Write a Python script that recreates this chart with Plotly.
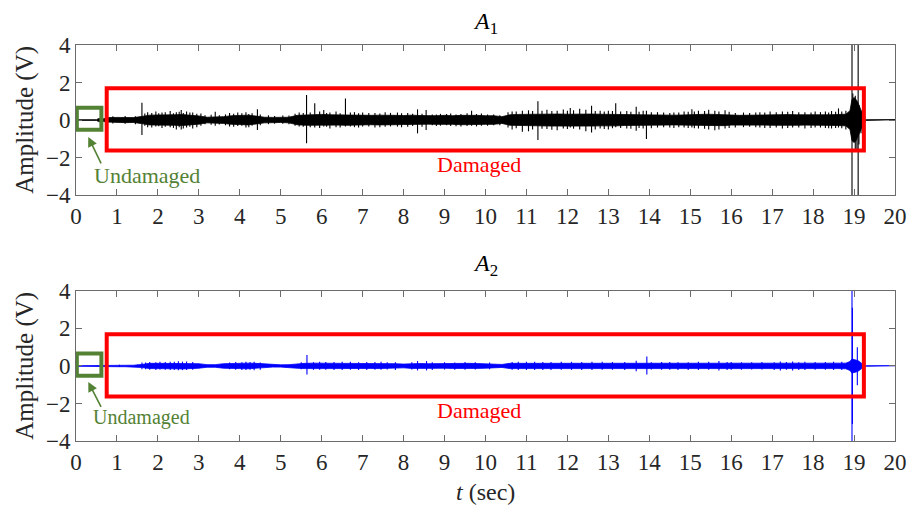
import plotly.graph_objects as go

# ---------------- data ----------------
env_t = [0.0, 0.5, 0.55, 0.6, 0.66, 0.72,
         0.8, 1.0, 1.2, 1.4, 1.6, 1.8, 2.0, 2.2, 2.4, 2.6,
         2.8, 3.0, 3.2, 3.4, 3.6, 3.8, 4.0, 4.2, 4.4, 4.6,
         4.8, 5.0, 5.2, 5.4, 5.6, 5.8, 6.0, 6.2, 6.4, 6.6,
         6.8, 7.0, 7.2, 7.4, 7.6, 7.8, 8.0, 8.2, 8.4, 8.6,
         8.8, 9.0, 9.2, 9.4, 9.6, 9.8, 10.0, 10.2, 10.4, 10.6,
         10.8, 11.0, 11.2, 11.4, 11.6, 11.8, 12.0, 12.2, 12.4, 12.6,
         12.8, 13.0, 13.2, 13.4, 13.6, 13.8, 14.0, 14.2, 14.4, 14.6,
         14.8, 15.0, 15.2, 15.4, 15.6, 15.8, 16.0, 16.2, 16.4, 16.6,
         16.8, 17.0, 17.2, 17.4, 17.6, 17.8, 18.0, 18.2, 18.4, 18.6,
         18.8,
         18.9, 18.95, 19.0, 19.05, 19.1, 19.15, 19.2, 19.25, 19.3, 20.0]

# half-amplitude of the solid signal band (V)
a1_env = [0.02, 0.02, 0.08, 0.10, 0.06, 0.10,
          0.13, 0.14, 0.14, 0.13, 0.19, 0.26, 0.27, 0.26, 0.28, 0.29,
          0.27, 0.22, 0.15, 0.15, 0.18, 0.23, 0.24, 0.26, 0.21, 0.15,
          0.14, 0.13, 0.15, 0.25, 0.28, 0.29, 0.30, 0.28, 0.27, 0.28,
          0.27, 0.27, 0.25, 0.26, 0.27, 0.25, 0.24, 0.26, 0.24, 0.22,
          0.23, 0.25, 0.23, 0.25, 0.27, 0.25, 0.23, 0.23, 0.18, 0.28,
          0.30, 0.31, 0.32, 0.31, 0.32, 0.32, 0.31, 0.32, 0.33, 0.32,
          0.31, 0.30, 0.31, 0.29, 0.30, 0.29, 0.29, 0.27, 0.26, 0.26,
          0.27, 0.29, 0.30, 0.31, 0.30, 0.30, 0.27, 0.25, 0.26, 0.27,
          0.27, 0.28, 0.28, 0.29, 0.28, 0.27, 0.28, 0.28, 0.28, 0.29,
          0.31,
          0.50, 1.10, 1.20, 1.10, 0.90, 0.60, 0.35, 0.10, 0.02, 0.02]

a2_env = [0.015, 0.015, 0.025, 0.03, 0.02, 0.03,
          0.04, 0.04, 0.04, 0.04, 0.08, 0.14, 0.14, 0.14, 0.15, 0.16,
          0.15, 0.12, 0.07, 0.07, 0.12, 0.14, 0.14, 0.15, 0.14, 0.10,
          0.06, 0.06, 0.07, 0.12, 0.14, 0.15, 0.15, 0.14, 0.14, 0.14,
          0.14, 0.14, 0.13, 0.14, 0.14, 0.12, 0.10, 0.13, 0.13, 0.12,
          0.13, 0.12, 0.13, 0.13, 0.14, 0.13, 0.12, 0.12, 0.08, 0.14,
          0.14, 0.15, 0.14, 0.14, 0.15, 0.14, 0.14, 0.14, 0.15, 0.14,
          0.14, 0.14, 0.14, 0.14, 0.14, 0.14, 0.13, 0.14, 0.14, 0.14,
          0.13, 0.14, 0.14, 0.14, 0.15, 0.14, 0.14, 0.13, 0.14, 0.14,
          0.14, 0.14, 0.14, 0.14, 0.14, 0.14, 0.14, 0.14, 0.14, 0.14,
          0.15,
          0.24, 0.38, 0.34, 0.32, 0.28, 0.20, 0.12, 0.03, 0.015, 0.015]

# individual spikes: time, max, min
a1_spk_t = [1.61, 2.57, 3.40, 4.43, 5.63, 5.83, 6.05, 6.58, 8.34, 8.55,
            11.28, 12.07, 12.59, 13.18, 13.68, 13.93, 15.04, 18.62,
            18.95, 18.97, 19.03, 19.07, 19.10, 19.12, 19.17,
            0.9, 1.2, 1.45, 1.75, 1.95, 2.1, 2.3, 2.45, 2.7, 2.85, 3.05, 3.3,
            3.75, 3.95, 4.15, 4.3, 4.7, 5.05, 5.45, 5.95, 6.2, 6.35, 6.8, 7.0,
            7.3, 7.55, 7.85, 8.1, 8.9, 9.15, 9.4, 9.66, 9.9, 10.2, 10.65, 10.9,
            11.05, 11.5, 11.75, 11.9, 12.3, 12.45, 12.8, 13.0, 13.45, 13.85,
            14.2, 14.6, 14.85, 15.2, 15.45, 15.6, 15.85, 16.3, 16.7, 16.95,
            17.25, 17.5, 17.8, 18.05, 18.3, 18.45, 18.8,
            1.68, 1.85, 2.02, 2.18, 2.38, 2.52, 2.62, 2.78, 2.95, 3.15, 3.5, 3.65,
            3.85, 4.05, 4.22, 4.5, 4.85, 5.2, 5.35, 5.55, 5.72, 6.12, 6.45, 6.7,
            6.9, 7.15, 7.42, 7.68, 7.95, 8.22, 8.45, 8.7, 8.8, 9.05, 9.28, 9.55,
            9.78, 10.05, 10.35, 10.55, 10.75, 11.15, 11.38, 11.62, 12.0, 12.15,
            12.68, 12.9, 13.1, 13.3, 13.55, 13.75, 14.05, 14.35, 14.5, 14.72,
            14.95, 15.1, 15.35, 15.7, 15.95, 16.1, 16.45, 16.6, 16.82, 17.1,
            17.38, 17.65, 17.95, 18.18, 18.38, 18.55, 18.7]
a1_spk_hi = [0.92, 0.53, 0.44, 0.58, 1.33, 0.89, 0.53, 1.15, 0.57, 0.53,
             1.00, 0.64, 0.76, 0.89, 0.71, 0.50, 0.58, 0.62,
             4.50, 1.42, 1.30, 1.00, 4.50, 0.80, 0.50,
             0.20, 0.22, 0.20, 0.42, 0.45, 0.40, 0.48, 0.42, 0.45, 0.40, 0.35, 0.28,
             0.38, 0.40, 0.42, 0.36, 0.25, 0.24, 0.40, 0.45, 0.40, 0.45, 0.42, 0.40,
             0.38, 0.42, 0.40, 0.38, 0.33, 0.35, 0.32, 0.50, 0.35, 0.30, 0.45, 0.50,
             0.52, 0.55, 0.50, 0.56, 0.60, 0.55, 0.50, 0.50, 0.48, 0.50,
             0.42, 0.40, 0.45, 0.50, 0.55, 0.50, 0.52, 0.40, 0.42, 0.45,
             0.45, 0.48, 0.42, 0.45, 0.45, 0.48, 0.50,
             0.35, 0.38, 0.36, 0.42, 0.36, 0.44, 0.38, 0.40, 0.34, 0.26, 0.25, 0.30,
             0.34, 0.36, 0.32, 0.30, 0.22, 0.24, 0.34, 0.38, 0.40, 0.38, 0.36, 0.40,
             0.36, 0.38, 0.35, 0.38, 0.36, 0.34, 0.33, 0.30, 0.30, 0.32, 0.30, 0.36,
             0.32, 0.30, 0.26, 0.42, 0.46, 0.48, 0.50, 0.48, 0.50, 0.52,
             0.48, 0.46, 0.48, 0.46, 0.44, 0.44, 0.42, 0.40, 0.38, 0.40,
             0.44, 0.46, 0.48, 0.46, 0.44, 0.38, 0.38, 0.40, 0.40, 0.42,
             0.44, 0.42, 0.40, 0.42, 0.40, 0.44, 0.46]
a1_spk_lo = [-0.80, -0.50, -0.30, -0.53, -1.24, -0.40, -0.35, -0.35, -0.71, -0.53,
             -1.06, -0.40, -0.66, -0.39, -0.57, -1.01, -0.40, -0.40,
             -4.50, -1.00, -1.60, -1.55, -4.50, -1.30, -0.70,
             -0.18, -0.20, -0.22, -0.38, -0.35, -0.42, -0.38, -0.50, -0.40, -0.45, -0.30, -0.25,
             -0.35, -0.32, -0.40, -0.30, -0.22, -0.20, -0.35, -0.42, -0.45, -0.38, -0.38, -0.35,
             -0.40, -0.36, -0.35, -0.36, -0.30, -0.32, -0.35, -0.30, -0.30, -0.28, -0.50, -0.62,
             -0.60, -0.48, -0.55, -0.45, -0.50, -0.60, -0.45, -0.50, -0.45, -0.45,
             -0.40, -0.42, -0.40, -0.45, -0.50, -0.55, -0.45, -0.38, -0.40, -0.42,
             -0.45, -0.40, -0.45, -0.40, -0.42, -0.45, -0.50,
             -0.30, -0.40, -0.33, -0.36, -0.42, -0.38, -0.45, -0.36, -0.38, -0.22, -0.24, -0.28,
             -0.36, -0.30, -0.38, -0.28, -0.20, -0.22, -0.30, -0.36, -0.38, -0.36, -0.40, -0.34,
             -0.40, -0.34, -0.38, -0.34, -0.38, -0.32, -0.36, -0.28, -0.32, -0.28, -0.33, -0.32,
             -0.34, -0.30, -0.28, -0.40, -0.44, -0.50, -0.46, -0.52, -0.48, -0.46,
             -0.50, -0.48, -0.44, -0.42, -0.46, -0.42, -0.44, -0.38, -0.40, -0.38,
             -0.42, -0.44, -0.46, -0.50, -0.42, -0.40, -0.36, -0.38, -0.42, -0.40,
             -0.42, -0.40, -0.42, -0.40, -0.44, -0.42, -0.44]

a2_spk_t = [1.61, 5.64, 8.34, 8.56, 13.68, 13.94, 15.70, 17.20, 17.50,
            18.95, 18.96, 19.08,
            1.06, 1.5, 1.8, 2.05, 2.3, 2.5, 2.7, 3.9, 4.15, 4.35, 5.5, 5.95,
            6.3, 6.7, 7.1, 7.45, 7.8, 9.0, 9.5, 10.8, 11.2, 11.6, 12.1, 12.6,
            13.1, 14.3, 14.7, 15.2, 16.0, 16.5, 17.8, 18.3, 18.7,
            1.7, 1.95, 2.18, 2.4, 2.6, 2.85, 3.75, 4.05, 4.25, 4.5, 5.8, 6.1,
            6.5, 6.9, 7.3, 7.6, 8.2, 8.7, 9.25, 9.75, 10.1, 10.65, 11.0, 11.4,
            11.85, 12.35, 12.85, 13.4, 14.05, 14.5, 14.95, 15.45, 15.9, 16.25,
            16.75, 17.05, 17.35, 17.65, 18.05, 18.5]
a2_spk_hi = [0.18, 0.58, 0.26, 0.26, 0.28, 0.50, 0.26, 0.24, 0.24,
             4.50, 3.10, 1.00,
             0.06, 0.07, 0.21, 0.22, 0.23, 0.25, 0.24, 0.21, 0.23, 0.22, 0.20, 0.22,
             0.21, 0.23, 0.21, 0.22, 0.20, 0.20, 0.21, 0.22, 0.23, 0.21, 0.22, 0.23,
             0.21, 0.21, 0.20, 0.22, 0.21, 0.20, 0.22, 0.21, 0.23,
             0.19, 0.20, 0.21, 0.22, 0.23, 0.21, 0.19, 0.20, 0.21, 0.19, 0.20, 0.21,
             0.22, 0.20, 0.21, 0.20, 0.20, 0.20, 0.19, 0.20, 0.19, 0.21, 0.22, 0.21,
             0.22, 0.21, 0.22, 0.21, 0.20, 0.21, 0.20, 0.22, 0.21, 0.20,
             0.21, 0.20, 0.21, 0.20, 0.21, 0.22]
a2_spk_lo = [-0.18, -0.45, -0.24, -0.24, -0.28, -0.46, -0.24, -0.24, -0.24,
             -4.50, -3.10, -1.03,
             -0.05, -0.06, -0.20, -0.19, -0.21, -0.23, -0.22, -0.20, -0.21, -0.23, -0.17, -0.20,
             -0.22, -0.20, -0.21, -0.20, -0.21, -0.19, -0.20, -0.21, -0.22, -0.22, -0.21, -0.21,
             -0.20, -0.20, -0.21, -0.21, -0.20, -0.19, -0.21, -0.20, -0.22,
             -0.18, -0.21, -0.20, -0.21, -0.22, -0.20, -0.18, -0.21, -0.20, -0.20, -0.21, -0.20,
             -0.21, -0.21, -0.20, -0.19, -0.19, -0.21, -0.20, -0.19, -0.18, -0.20, -0.21, -0.22,
             -0.20, -0.21, -0.20, -0.21, -0.19, -0.20, -0.21, -0.20, -0.21, -0.20,
             -0.19, -0.21, -0.20, -0.21, -0.20, -0.21]

x_ticks = list(range(0, 21))
y_ticks = [-4, -2, 0, 2, 4]

# annotation boxes (data coordinates)
green_box = dict(t0=0.02, t1=0.62, v0=-0.52, v1=0.66)
red_box = dict(t0=0.75, t1=19.24, v0=-1.63, v1=1.69)

# ---------------- figure ----------------
FONT = "Liberation Serif, Times New Roman, serif"
GREEN = "#548235"
RED = "#FF0000"
AXC = "#6b6b6b"

fig = go.Figure()


def add_signal(env, st, shi, slo, color, xa, ya):
    xs = list(env_t) + list(reversed(env_t))
    ys = list(env) + [-v for v in reversed(env)]
    fig.add_trace(go.Scatter(x=xs, y=ys, fill="toself", fillcolor=color,
                             mode="lines", line=dict(color=color, width=0.8),
                             xaxis=xa, yaxis=ya, hoverinfo="skip",
                             showlegend=False))
    sx, sy = [], []
    for t, h, l in zip(st, shi, slo):
        sx += [t, t, None]
        sy += [h, l, None]
    fig.add_trace(go.Scatter(x=sx, y=sy, mode="lines",
                             line=dict(color=color, width=1.1),
                             xaxis=xa, yaxis=ya, hoverinfo="skip",
                             showlegend=False))


add_signal(a1_env, a1_spk_t, a1_spk_hi, a1_spk_lo, "#000000", "x", "y")
add_signal(a2_env, a2_spk_t, a2_spk_hi, a2_spk_lo, "#0000FF", "x2", "y2")

axis_common = dict(showline=True, linecolor=AXC, linewidth=1, mirror="allticks",
                   ticks="inside", ticklen=6, tickcolor=AXC, showgrid=False,
                   zeroline=False, tickfont=dict(family=FONT, size=23, color="#262626"))

# the page body adds an 8px offset, so the figure is 8px smaller than the window
fig.update_layout(
    width=911, height=499,
    margin=dict(l=68, r=15, t=37, b=66),
    paper_bgcolor="white", plot_bgcolor="white",
    xaxis=dict(domain=[0, 1], anchor="y", range=[0, 20], tickvals=x_ticks, **axis_common),
    yaxis=dict(domain=[0.621, 1], anchor="x", range=[-4, 4], tickvals=y_ticks, **axis_common),
    xaxis2=dict(domain=[0, 1], anchor="y2", range=[0, 20], tickvals=x_ticks, **axis_common),
    yaxis2=dict(domain=[0, 0.379], anchor="x2", range=[-4, 4], tickvals=y_ticks, **axis_common),
)

shapes = []
anns = []
for xr, yr, und_font, und_xy, tip, tail in [
        ("x", "y", 22, (1.74, -2.93), (0.30, -0.90), (0.63, -2.39)),
        ("x2", "y2", 20, (1.59, -2.74), (0.30, -0.85), (0.63, -2.26))]:
    shapes.append(dict(type="rect", xref=xr, yref=yr,
                       x0=green_box["t0"], x1=green_box["t1"],
                       y0=green_box["v0"], y1=green_box["v1"],
                       line=dict(color=GREEN, width=4)))
    shapes.append(dict(type="rect", xref=xr, yref=yr,
                       x0=red_box["t0"], x1=red_box["t1"],
                       y0=red_box["v0"], y1=red_box["v1"],
                       line=dict(color=RED, width=4)))
    anns.append(dict(xref=xr, yref=yr, x=und_xy[0], y=und_xy[1], text="Undamaged",
                     showarrow=False, xanchor="center", yanchor="middle",
                     font=dict(family=FONT, size=und_font, color=GREEN)))
    anns.append(dict(xref=xr, yref=yr, x=tip[0], y=tip[1], ax=tail[0], ay=tail[1],
                     axref=xr, ayref=yr, text="", showarrow=True, arrowhead=2,
                     arrowsize=1.2, arrowwidth=1.6, arrowcolor=GREEN))
    anns.append(dict(xref=xr, yref=yr, x=9.85, y=-2.37, text="Damaged",
                     showarrow=False, xanchor="center", yanchor="middle",
                     font=dict(family=FONT, size=22, color=RED)))

# titles and axis labels
anns.append(dict(xref="paper", yref="paper", x=0.5, y=1.055, text="<i>A</i><sub>1</sub>",
                 showarrow=False, xanchor="center", yanchor="middle",
                 font=dict(family=FONT, size=24, color="#000000")))
anns.append(dict(xref="paper", yref="paper", x=0.5, y=0.444, text="<i>A</i><sub>2</sub>",
                 showarrow=False, xanchor="center", yanchor="middle",
                 font=dict(family=FONT, size=24, color="#000000")))
anns.append(dict(xref="paper", yref="paper", x=0.5, y=-0.129, text="<i>t</i> (sec)",
                 showarrow=False, xanchor="center", yanchor="middle",
                 font=dict(family=FONT, size=24, color="#262626")))
for yc in [0.8105, 0.1895]:
    anns.append(dict(xref="paper", yref="paper", x=-0.0625, y=yc, text="Amplitude (V)",
                     textangle=-90, showarrow=False, xanchor="center", yanchor="middle",
                     font=dict(family=FONT, size=25, color="#262626")))

fig.update_layout(shapes=shapes, annotations=anns)
fig.write_html("out.html")
